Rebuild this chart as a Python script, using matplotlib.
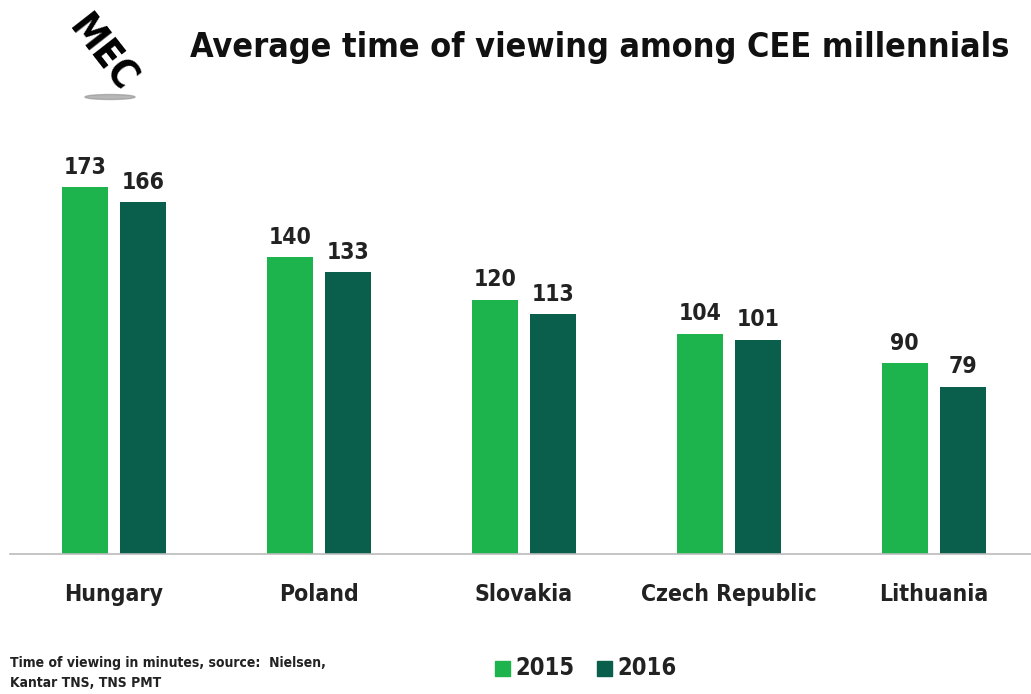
import matplotlib.pyplot as plt
from matplotlib.patches import Ellipse, Rectangle
import numpy as np

# Datos del grafico
paises = ["Hungary", "Poland", "Slovakia", "Czech Republic", "Lithuania"]
valores_2015 = [173, 140, 120, 104, 90]
valores_2016 = [166, 133, 113, 101, 79]
anios = ["2015", "2016"]

verde_claro = "#1db34d"
verde_oscuro = "#0a5e4c"

plt.rcParams["font.stretch"] = "condensed"

fig = plt.figure(figsize=(10.31, 6.94), dpi=100)
ax = fig.add_axes([10 / 1031, 140 / 694, 1021 / 1031, 424 / 694])

x = np.arange(len(paises))
ancho = 0.224
desp = 0.143
barras1 = ax.bar(x - desp, valores_2015, ancho, color=verde_claro)
barras2 = ax.bar(x + desp, valores_2016, ancho, color=verde_oscuro)

# Etiquetas encima de cada barra
for barras, valores in [(barras1, valores_2015), (barras2, valores_2016)]:
    for bar, valor in zip(barras, valores):
        ax.text(bar.get_x() + bar.get_width() / 2, bar.get_height() + 4, str(valor),
                ha="center", va="bottom", fontsize=16.5, fontweight="bold", color="#222222")

ax.set_xlim(-0.507, 4.473)
ax.set_ylim(0, 200)
for s in ["top", "right", "left"]:
    ax.spines[s].set_visible(False)
ax.spines["bottom"].set_color("#bbbbbb")
ax.spines["bottom"].set_linewidth(1.2)
ax.set_yticks([])
ax.set_xticks(x)
ax.set_xticklabels(paises, fontsize=16.5, fontweight="bold", color="#222222")
ax.tick_params(axis="x", length=0, pad=21)

# Titulo
fig.text(190 / 1031, 1 - 48 / 694, "Average time of viewing among CEE millennials",
         fontsize=24.5, fontweight="bold", color="#111111", va="center", ha="left")

# Logo aproximado
fig.text(102 / 1031, 1 - 54 / 694, "MEC", fontsize=28, fontweight="heavy",
         rotation=-52, ha="center", va="center", color="black")
fig.patches.append(Ellipse((110 / 1031, 1 - 97 / 694), 50 / 1031, 5 / 694,
                           transform=fig.transFigure, color="#999999", alpha=0.7))

# Nota al pie
fig.text(10 / 1031, 1 - 673 / 694, "Time of viewing in minutes, source:  Nielsen,\nKantar TNS, TNS PMT",
         fontsize=10, fontweight="bold", color="#222222", va="center", ha="left", linespacing=1.55)

# Leyenda
colores = [verde_claro, verde_oscuro]
posiciones = [495, 597]
for anio, color, px in zip(anios, colores, posiciones):
    fig.patches.append(Rectangle((px / 1031, 1 - 676 / 694), 15 / 1031, 15 / 694,
                                 transform=fig.transFigure, color=color))
    fig.text((px + 20) / 1031, 1 - 668 / 694, anio, fontsize=17, fontweight="bold",
             color="#222222", va="center", ha="left")

fig.savefig("out.png", dpi=100, facecolor="white")
